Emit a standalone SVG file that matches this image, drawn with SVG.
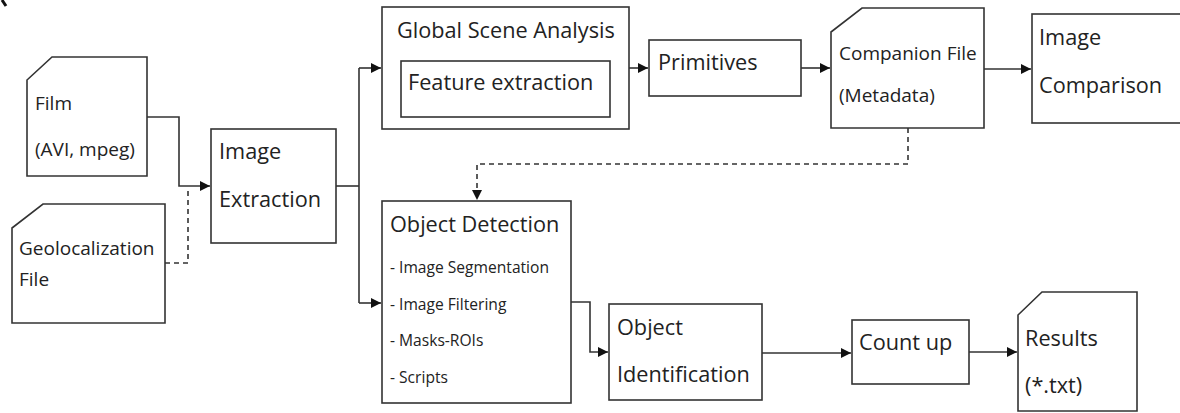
<svg xmlns="http://www.w3.org/2000/svg" width="1180" height="413" viewBox="0 0 1180 413">
<style>
.n{fill:#fff;stroke:#333;stroke-width:1.6}
.c{fill:none;stroke:#333;stroke-width:1.6}
.d{stroke-dasharray:5,4}
text{font-family:"Open Sans","Noto Sans",sans-serif;fill:#222}
.t{font-size:21.7px}
.m{font-size:19px}
.s{font-size:15.6px}
</style>
<defs>
<marker id="ah" markerUnits="userSpaceOnUse" markerWidth="11" markerHeight="10" refX="10" refY="5" orient="auto">
<path d="M0,0 L10,5 L0,10 Z" fill="#111"/>
</marker>
</defs>
<rect width="1180" height="413" fill="#fff"/>
<path d="M2,0 L6,6" stroke="#111" stroke-width="3" fill="none"/>
<g id="connectors">
<path class="c" d="M147,117 H179 V186 H210" marker-end="url(#ah)"/>
<path class="c d" d="M165,263 H188 V187"/>
<path class="c" d="M336,186 H359"/>
<path class="c" d="M359,68 V303"/>
<path class="c" d="M359,68 H381" marker-end="url(#ah)"/>
<path class="c" d="M359,303 H381" marker-end="url(#ah)"/>
<path class="c" d="M629,68 H648" marker-end="url(#ah)"/>
<path class="c" d="M801,68 H830" marker-end="url(#ah)"/>
<path class="c" d="M984,69 H1031" marker-end="url(#ah)"/>
<path class="c d" d="M908,128 V164 H477 V200" marker-end="url(#ah)"/>
<path class="c" d="M571,302 H590 V352 H608" marker-end="url(#ah)"/>
<path class="c" d="M762,353 H851" marker-end="url(#ah)"/>
<path class="c" d="M969,352 H1017" marker-end="url(#ah)"/>
</g>
<g id="film">
<path class="n" d="M52,57 H147 V176 H27 V80 Z"/>
<text class="m" x="35" y="110">Film</text>
<text class="m" x="35" y="156">(AVI, mpeg)</text>
</g>
<g id="geoloc">
<path class="n" d="M43,204 H165 V323 H12 V228 Z"/>
<text class="m" x="19" y="255">Geolocalization</text>
<text class="m" x="19" y="286">File</text>
</g>
<g id="image-extraction">
<rect class="n" x="211" y="129" width="125" height="114"/>
<text class="t" x="219" y="159">Image</text>
<text class="t" x="219" y="207">Extraction</text>
</g>
<g id="global-scene">
<rect class="n" x="382" y="7" width="247" height="122"/>
<text class="t" x="397" y="38">Global Scene Analysis</text>
<rect class="n" x="401" y="61" width="209" height="56"/>
<text class="t" x="408" y="90">Feature extraction</text>
</g>
<g id="primitives">
<rect class="n" x="649" y="40" width="152" height="56"/>
<text class="t" x="658" y="70">Primitives</text>
</g>
<g id="companion">
<path class="n" d="M862,8 H984 V128 H831 V32 Z"/>
<text class="m" x="839" y="60">Companion File</text>
<text class="m" x="839" y="102">(Metadata)</text>
</g>
<g id="image-comparison">
<rect class="n" x="1032" y="14" width="160" height="109"/>
<text class="t" x="1039" y="45">Image</text>
<text class="t" x="1039" y="93">Comparison</text>
</g>
<g id="object-detection">
<rect class="n" x="382" y="201" width="189" height="202"/>
<text class="t" x="390" y="232">Object Detection</text>
<text class="s" x="390" y="273">- Image Segmentation</text>
<text class="s" x="390" y="310">- Image Filtering</text>
<text class="s" x="390" y="346">- Masks-ROIs</text>
<text class="s" x="390" y="383">- Scripts</text>
</g>
<g id="object-identification">
<rect class="n" x="609" y="304" width="153" height="96"/>
<text class="t" x="617" y="335">Object</text>
<text class="t" x="617" y="382">Identification</text>
</g>
<g id="count-up">
<rect class="n" x="852" y="320" width="117" height="64"/>
<text class="t" x="859" y="350">Count up</text>
</g>
<g id="results">
<path class="n" d="M1042,292 H1137 V411 H1018 V315 Z"/>
<text class="t" x="1025" y="346">Results</text>
<text class="t" x="1025" y="393">(*.txt)</text>
</g>
</svg>
